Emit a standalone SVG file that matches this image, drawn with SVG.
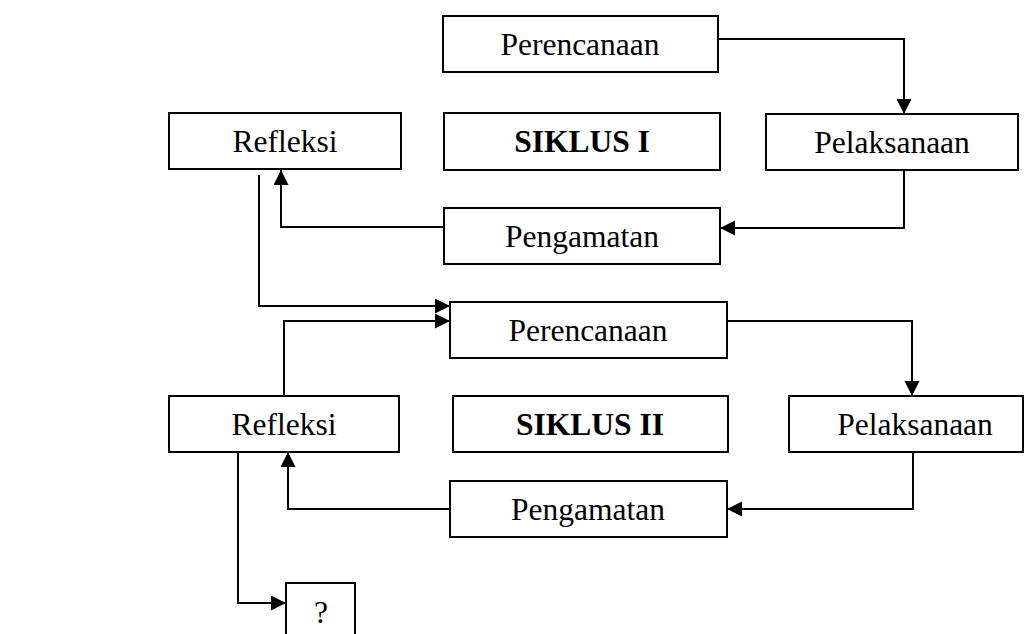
<svg xmlns="http://www.w3.org/2000/svg" width="1027" height="634" viewBox="0 0 1027 634">
<style>
.box{fill:#fff;stroke:#000;stroke-width:2}
.lbl{font-family:"Liberation Serif","Times New Roman",serif;font-size:31.5px;text-anchor:middle;fill:#000}
.bold{font-weight:bold}
.con{fill:none;stroke:#000;stroke-width:2}
</style>
<defs>
<marker id="arr" markerUnits="userSpaceOnUse" markerWidth="16" markerHeight="16" refX="15" refY="7.5" orient="auto">
<path d="M0,0 L15,7.5 L0,15 z" fill="#000"/>
</marker>
</defs>
<rect width="1027" height="634" fill="#fff"/>
<g id="perencanaan1"><rect class="box" x="443" y="16" width="275" height="56"/><text class="lbl" x="580" y="55">Perencanaan</text></g>
<g id="refleksi1"><rect class="box" x="169" y="113" width="232" height="56"/><text class="lbl" x="285" y="152">Refleksi</text></g>
<g id="siklus1"><rect class="box" x="444" y="113" width="276" height="57"/><text class="lbl bold" x="582" y="152">SIKLUS I</text></g>
<g id="pelaksanaan1"><rect class="box" x="766" y="114" width="252" height="56"/><text class="lbl" x="892" y="153">Pelaksanaan</text></g>
<g id="pengamatan1"><rect class="box" x="444" y="208" width="276" height="56"/><text class="lbl" x="582" y="247">Pengamatan</text></g>
<g id="perencanaan2"><rect class="box" x="450" y="302" width="277" height="56"/><text class="lbl" x="588" y="341">Perencanaan</text></g>
<g id="refleksi2"><rect class="box" x="169" y="396" width="230" height="56"/><text class="lbl" x="284" y="435">Refleksi</text></g>
<g id="siklus2"><rect class="box" x="453" y="396" width="275" height="56"/><text class="lbl bold" x="590" y="435">SIKLUS II</text></g>
<g id="pelaksanaan2"><rect class="box" x="789" y="396" width="234" height="56"/><text class="lbl" x="915" y="435">Pelaksanaan</text></g>
<g id="pengamatan2"><rect class="box" x="450" y="481" width="277" height="56"/><text class="lbl" x="588" y="520">Pengamatan</text></g>
<g id="q"><rect class="box" x="286" y="583" width="69" height="70"/><text class="lbl" x="321" y="623">?</text></g>
<g id="connectors">
<path class="con" d="M718,39 H904 V114" marker-end="url(#arr)"/>
<path class="con" d="M904,170 V228 H720" marker-end="url(#arr)"/>
<path class="con" d="M444,227 H281 V170" marker-end="url(#arr)"/>
<path class="con" d="M259,175 V306 H450" marker-end="url(#arr)"/>
<path class="con" d="M284,396 V321 H450" marker-end="url(#arr)"/>
<path class="con" d="M727,321 H912 V396" marker-end="url(#arr)"/>
<path class="con" d="M913,452 V509 H727" marker-end="url(#arr)"/>
<path class="con" d="M450,509 H288 V452" marker-end="url(#arr)"/>
<path class="con" d="M238,452 V603 H286" marker-end="url(#arr)"/>
</g>
</svg>
